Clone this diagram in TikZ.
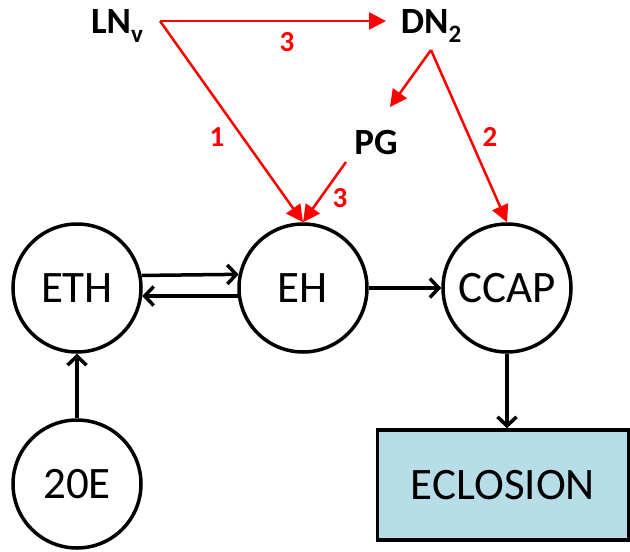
\documentclass[tikz,border=0pt]{standalone}
\usepackage{fontspec}
\setmainfont{Carlito}
\usetikzlibrary{arrows.meta}
\definecolor{ecl}{RGB}{183,222,232}
\tikzset{
  circ/.style={circle, draw=black, line width=3.5pt, minimum size=128pt, inner sep=0pt, font=\fontsize{45}{50}\selectfont},
  box/.style={rectangle, draw=black, line width=3.5pt, fill=ecl, inner sep=0pt, font=\fontsize{45}{50}\selectfont},
  top/.style={font=\bfseries\fontsize{37}{40}\selectfont, inner sep=0pt},
  num/.style={text=red, font=\bfseries\fontsize{29}{30}\selectfont, inner sep=0pt},
  blk/.style={line width=3.5pt, -{Straight Barb[length=9pt,width=19pt]}},
  redarr/.style={red, line width=2.5pt, -{Triangle[length=17pt,width=17pt]}},
}
\newcommand{\subsc}[1]{\raisebox{-9pt}{\fontsize{25}{25}\selectfont #1}}
\begin{document}
\begin{tikzpicture}[x=1pt,y=-1pt]
\useasboundingbox (0,0) rectangle (630,552);
% nodes
\node[circ] (eth) at (77,288) {ETH};
\node[circ] (eh) at (303,288) {EH};
\node[circ] (ccap) at (507,288) {CCAP};
\node[circ] (e20) at (77,484) {20E};
\node[box, minimum width=251pt, minimum height=110pt] (ecl) at (503,485) {ECLOSION};
\node[top, anchor=base] (lnv) at (117,33) {LN\subsc{v}};
\node[top, anchor=base] (dn) at (431,33) {DN\subsc{2}};
\node[top] (pg) at (376,142) {PG};
\coordinate (lnvout) at (160,21);
\coordinate (dnin) at (386,21);
\coordinate (dnout) at (431,50);
\coordinate (pgin) at (390,107);
\coordinate (pgout) at (346,162);
% black arrows
\draw[blk] (eth.11.5) -- (eh.168.5);
\draw[blk] (eh.-173) -- (eth.-7);
\draw[blk] (eh.east) -- (ccap.west);
\draw[blk] (e20.north) -- (eth.south);
\draw[blk] (ccap.south) -- (ecl.north -| ccap.south);
% red arrows
\draw[redarr] (lnvout) -- (dnin);
\draw[redarr] (lnvout) -- (eh.north);
\draw[redarr] (dnout) -- (pgin);
\draw[redarr] (dnout) -- (ccap.north);
\draw[redarr] (pgout) -- (eh.north);
% labels
\node[num] (l3a) at (287,42) {3};
\node[num] (l1) at (217,137) {1};
\node[num] (l2) at (490,137) {2};
\node[num] (l3b) at (340,198) {3};
\end{tikzpicture}
\end{document}
